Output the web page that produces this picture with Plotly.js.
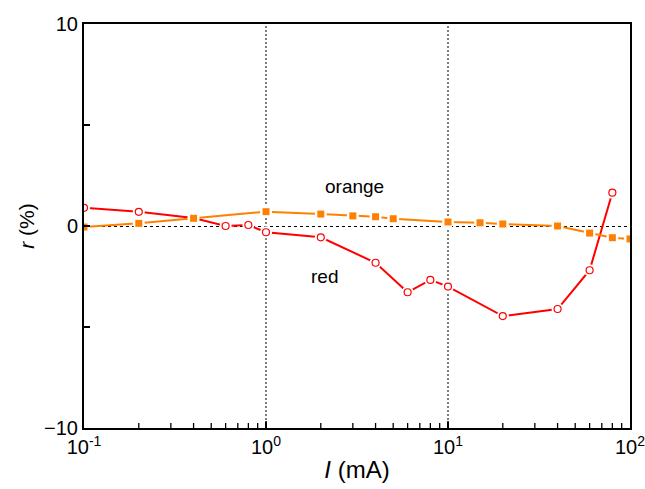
<!DOCTYPE html>
<html>
<head>
<meta charset="utf-8">
<script src="https://cdn.plot.ly/plotly-3.0.1.min.js"></script>
<style>
  html, body { margin: 0; padding: 0; background: #fff; }
  #chart { width: 645px; height: 489px; }
</style>
</head>
<body>
<div id="chart"></div>
<script>
// Current I (mA) and relative deviation r (%) for the two LED colours
const redCurrent = [0.1, 0.2, 0.4, 0.6, 0.8, 1, 2, 4, 6, 8, 10, 20, 40, 60, 80];
const redR       = [0.9, 0.7, 0.4, 0.0, 0.05, -0.31, -0.56, -1.82, -3.28, -2.67, -3.0, -4.46, -4.11, -2.19, 1.65];

const orangeCurrent = [0.1, 0.2, 0.4, 1, 2, 3, 4, 5, 10, 15, 20, 40, 60, 80, 100];
const orangeR       = [-0.05, 0.13, 0.38, 0.71, 0.59, 0.5, 0.46, 0.36, 0.2, 0.16, 0.1, 0.0, -0.35, -0.58, -0.64];

const xDecades    = [0.1, 1, 10, 100];
const xDecadeText = ['10<sup>-1</sup>', '10<sup>0</sup>', '10<sup>1</sup>', '10<sup>2</sup>'];
const xDigits     = [2, 3, 4, 5, 6, 7, 8, 9];
const xGuides     = [1, 10];          // dotted verticals at the inner decades
const yTickVals   = [-10, 0, 10];
const yMinorVals  = [-5, 5];

// 2..9 sub-ticks of every decade on the log axis
const xMinorVals = [];
xDecades.slice(0, -1).forEach(function (d) {
  xDigits.forEach(function (k) { xMinorVals.push(+(d * k).toPrecision(3)); });
});

const RED = '#ff0000';
const ORANGE = '#ff8000';

function series(x, y, color, symbol, filled) {
  return [
    { x: x, y: y, mode: 'lines', line: { color: color, width: 2 }, hoverinfo: 'skip' },
    // white halo so the line stops short of each marker
    { x: x, y: y, mode: 'markers', marker: { symbol: 'circle', size: 12, color: '#ffffff' }, hoverinfo: 'skip' },
    { x: x, y: y, mode: 'markers',
      marker: { symbol: symbol, size: 7,
                color: filled ? color : '#ffffff',
                line: { color: color, width: filled ? 0 : 1.2 } } }
  ];
}

const data = [].concat(
  series(redCurrent, redR, RED, 'circle', false),
  series(orangeCurrent, orangeR, ORANGE, 'square', true)
);

const font = { family: 'Liberation Sans, Arial, sans-serif', color: '#000' };
const plotHeight = 489 - 24 - 61;

// short inward tick strokes along the bottom frame, plus the dotted decade guides
const shapes = []
  .concat(xMinorVals.map(function (v) {
    return { type: 'line', xref: 'x', yref: 'paper', x0: v, x1: v, y0: 0, y1: 5 / plotHeight,
             line: { color: '#000', width: 1.3 }, layer: 'above' };
  }))
  .concat(xGuides.map(function (v) {
    return { type: 'line', xref: 'x', yref: 'paper', x0: v, x1: v, y0: 0, y1: 1,
             line: { color: '#000', width: 1, dash: '2px,2px' }, layer: 'below' };
  }))
  .concat(xGuides.map(function (v) {
    return { type: 'line', xref: 'x', yref: 'paper', x0: v, x1: v, y0: 0, y1: 7 / plotHeight,
             line: { color: '#000', width: 1.5 }, layer: 'above' };
  }));

const layout = {
  width: 645, height: 489,
  margin: { l: 84, r: 15, t: 24, b: 61 },
  paper_bgcolor: '#fff', plot_bgcolor: '#fff',
  showlegend: false,
  font: Object.assign({ size: 20 }, font),
  xaxis: {
    type: 'log', range: [-1, 2],
    tickmode: 'array', tickvals: xDecades, ticktext: xDecadeText,
    ticklabeloverflow: 'allow',
    ticks: 'inside', ticklen: 6, tickwidth: 1.5, tickcolor: '#000',
    showgrid: false,
    showline: true, linecolor: '#000', linewidth: 2, mirror: true,
    zeroline: false,
    tickfont: Object.assign({ size: 20 }, font),
    title: { text: '<i>I</i> (mA)', font: Object.assign({ size: 24 }, font), standoff: 4 }
  },
  yaxis: {
    range: [-10, 10],
    tickvals: yTickVals,
    ticks: 'inside', ticklen: 6, tickwidth: 1.5, tickcolor: '#000',
    minor: { tickvals: yMinorVals, ticks: 'inside', ticklen: 6, tickwidth: 1.2, tickcolor: '#000', showgrid: false },
    showgrid: true, gridcolor: '#000', gridwidth: 1, griddash: 'dot',
    showline: true, linecolor: '#000', linewidth: 2, mirror: true,
    zeroline: false,
    tickfont: Object.assign({ size: 20 }, font),
    title: { text: '<i>r</i> (%)', font: Object.assign({ size: 21 }, font), standoff: 4 }
  },
  shapes: shapes,
  annotations: [
    { xref: 'paper', yref: 'paper', x: 0.496, y: 0.599, text: 'orange', showarrow: false,
      font: Object.assign({ size: 19 }, font) },
    { xref: 'paper', yref: 'paper', x: 0.441, y: 0.374, text: 'red', showarrow: false,
      font: Object.assign({ size: 19 }, font) }
  ]
};

Plotly.newPlot('chart', data, layout, { displayModeBar: false, staticPlot: true });
</script>
</body>
</html>
